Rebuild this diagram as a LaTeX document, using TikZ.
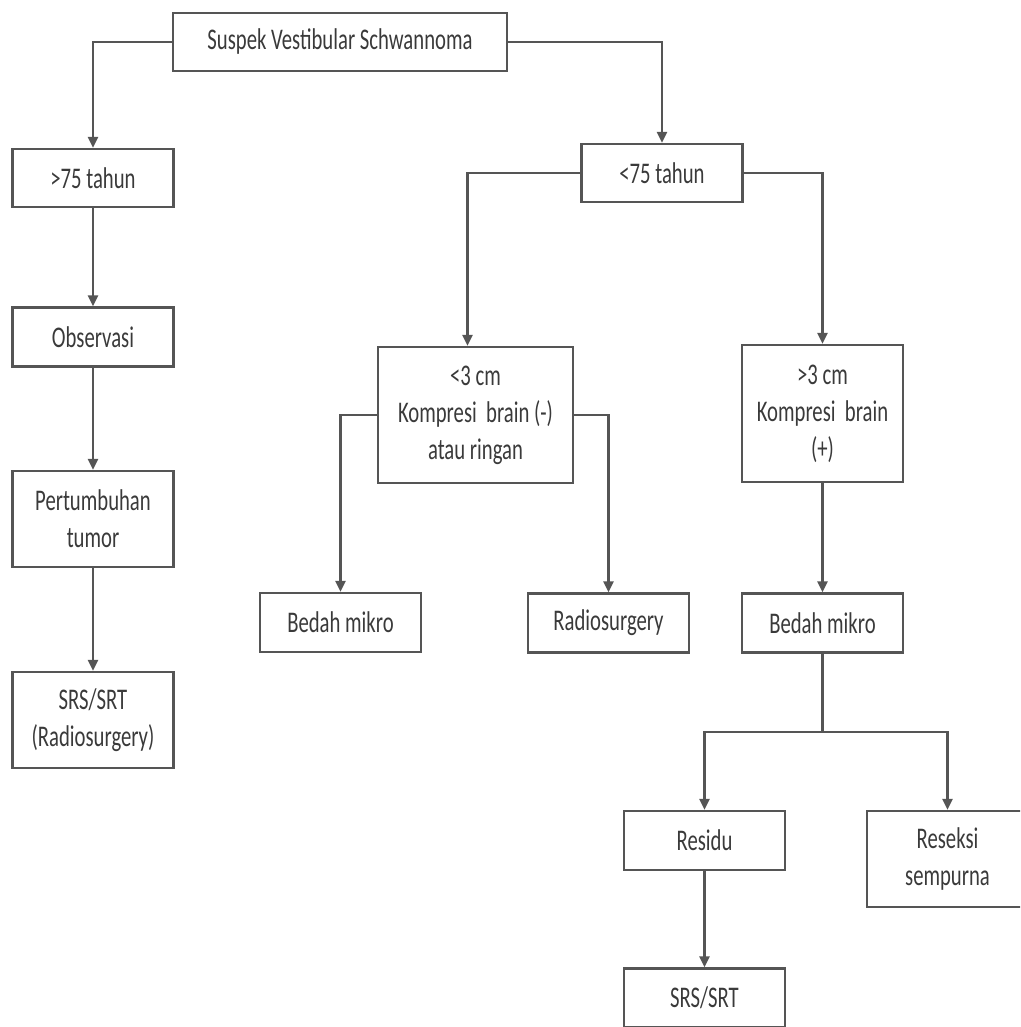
\documentclass[tikz,border=0pt]{standalone}
\usepackage{fontspec}
\setmainfont{Carlito}[FakeStretch=0.69]
\usepackage{xcolor}
\usepackage{tikz}
\usetikzlibrary{arrows.meta}

\definecolor{linegray}{HTML}{555555}
\definecolor{textgray}{HTML}{3A3A3A}

\begin{document}
\begin{tikzpicture}[x=1pt, y=-1pt, line width=2.4pt,
        box/.style={draw=linegray, text=textgray, align=center, inner sep=0pt,
            minimum width=161pt, minimum height=59pt,
            font=\fontsize{30}{37}\selectfont},
        arr/.style={draw=linegray, -{Triangle[width=10pt, length=11pt]}},
        link/.style={draw=linegray}]
        \useasboundingbox (0,0) rectangle (1020,1027);
        \clip (0,0) rectangle (1020,1027);

        % 起点
        \node[box, minimum width=334pt, minimum height=58pt] (suspect) at (340,42) {Suspek Vestibular Schwannoma};

        % 左侧分支 (>75)
        \node[box, minimum height=58pt] (old) at (93,178) {>75 tahun};
        \node[box] (observe) at (93,337) {Observasi};
        \node[box, minimum height=96pt] (growth) at (93,519) {Pertumbuhan\\tumor};
        \node[box, minimum height=96pt] (srsleft) at (93,720) {SRS/SRT\\(Radiosurgery)};

        % 右侧分支 (<75)
        \node[box, minimum height=58pt] (young) at (662,173) {<75 tahun};
        \node[box, minimum width=195pt, minimum height=136pt] (small) at (475.5,415) {<3 cm\\Kompresi~ brain (-)\\atau ringan};
        \node[box, minimum height=137pt] (large) at (822.5,413.5) {>3 cm\\Kompresi~ brain\\(+)};
        \node[box] (microleft) at (340.5,622.5) {Bedah mikro};
        \node[box] (radio) at (608.5,623) {Radiosurgery};
        \node[box] (microright) at (822.5,623) {Bedah mikro};
        \coordinate (split) at (822.5,732);
        \node[box] (residu) at (704.5,840.5) {Residu};
        \node[box, minimum height=96pt] (resect) at (947.5,859) {Reseksi\\sempurna};
        \node[box] (srsright) at (704.5,998) {SRS/SRT};

        % 连线
        \draw[arr] (suspect.west) -| (old.north);
        \draw[arr] (suspect.east) -| (young.north);
        \draw[arr] (old) -- (observe);
        \draw[arr] (observe) -- (growth);
        \draw[arr] (growth) -- (srsleft);
        \draw[arr] (young.west) -| ([xshift=-8pt]small.north);
        \draw[arr] (young.east) -| (large.north);
        \draw[arr] (small.west) -| (microleft.north);
        \draw[arr] (small.east) -| (radio.north);
        \draw[arr] (large) -- (microright);
        \draw[link] (microright.south) -- (split);
        \draw[arr] (split) -| (residu.north);
        \draw[arr] (split) -| (resect.north);
        \draw[arr] (residu) -- (srsright);
\end{tikzpicture}
\end{document}
